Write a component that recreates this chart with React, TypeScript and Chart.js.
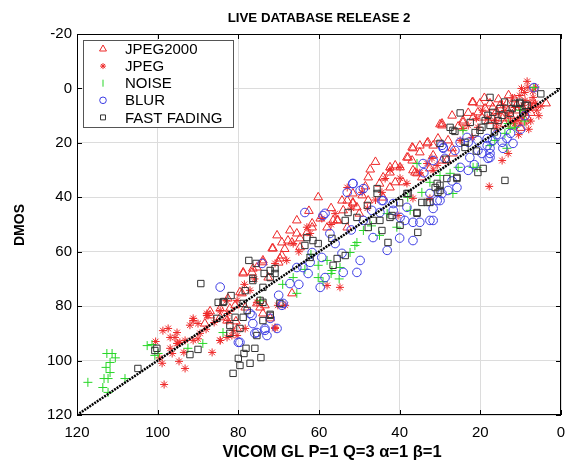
import React, { useEffect, useRef } from "react";
import { Chart, registerables } from "chart.js";

Chart.register(...registerables);

const TITLE = "LIVE DATABASE RELEASE 2";
const X_LABEL = "VICOM GL P=1 Q=3 α=1 β=1";
const Y_LABEL = "DMOS";
const X_TICKS = [0, 20, 40, 60, 80, 100, 120];
const Y_TICKS = [-20, 0, 20, 40, 60, 80, 100, 120];
const SERIES_NAMES = ["JPEG2000", "JPEG", "NOISE", "BLUR", "FAST FADING"];
const IDENTITY_LINE = [[0, 0], [120, 120]];

const jp2kPoints = [
  [3.7, 5.5], [8.9, 11.8], [9.4, 12.5], [8.4, 10.7], [10.9, 8.1], [10.9, 12.9], [13.1, 8.1], [13.4, 5.5], [15.1, 6.2], [16.9, 7],
  [17.6, 5.5], [17.1, 10.7], [18.8, 7.4], [19.6, 10.7], [20.6, 8.8], [20.1, 5.5], [21.8, 5.1], [21.8, 10.7], [24.3, 12.5], [29.5, 12.9],
  [27, 22], [29.5, 26.5], [26.8, 23.9], [7.5, 9], [12, 14], [14.5, 11], [6.5, 6], [11.5, 4],
  [9.5, 7], [12.5, 10], [14, 13], [16, 8.5], [18, 12], [11, 6], [15.5, 4], [23, 9], [25.5, 14], [27, 10], [19, 3.5], [13, 2.5], [10, 14.5],
  [30, 13.2], [30.5, 18.4], [33.2, 20.2], [35, 21], [36.7, 22], [38.2, 25.4], [36.9, 26.5], [39.9, 29], [35.7, 31.2], [47.3, 29.8],
  [47.8, 32.7], [44.1, 32.7], [41.1, 34.5], [39.2, 34.5], [42.4, 36.4], [53, 41.2], [51.6, 42.3], [54, 44.8], [44.1, 40.1], [31.7, 21],
  [29.5, 13.6], [24.3, 11.8], [22, 5.1], [28, 19.1], [33, 19.8], [36.9, 21.7], [35, 23.5], [42.4, 29],
  [45, 35], [48.5, 36], [57, 44], [62.5, 45], [63, 53], [68.5, 59], [70, 64], [46, 27], [50, 46],
  [36.2, 30.9], [60.2, 40], [55.3, 48.5], [59.7, 47.8], [61.7, 49.6], [58, 51.1], [65.5, 53.3], [67.7, 55.9], [66.7, 56.6], [64.7, 58.4],
  [71.4, 58.8], [69.2, 61.4], [73.9, 63.2], [75.4, 65.8], [51.6, 41.9], [50.6, 43.7], [53, 51.1], [56.5, 48.5],
  [72.6, 69.5], [78.8, 67.6], [76.6, 67.6], [79.1, 75.3], [84.5, 80.9], [82.1, 80.9], [82.8, 85.3], [80.6, 85.6], [74.6, 80.5], [72.1, 84.5],
  [78.3, 80.5], [73.9, 82.7], [75.4, 79], [87, 81.9], [78.8, 68], [76.4, 66.2], [79.6, 74.9],
  [73.9, 63.9], [71.6, 58.8], [69.7, 62.5], [82.6, 77.2], [80.8, 79.7], [73.4, 79.7], [66.7, 75.3], [87, 83.4], [88.3, 86.4], [84.5, 84.1], [80.3, 88.2],
  [67.2, 52.2], [64.7, 55.1], [70.4, 54], [69.2, 56.6], [65.5, 48.5], [61.7, 51.1], [55.5, 48.5], [54.3, 41.2], [49.3, 39.3], [47.8, 41.2],
  [51.6, 38.6], [42.4, 30.9], [41.1, 28.3], [37.9, 25.4], [36.7, 30.1], [34.5, 32.7], [32.5, 29.4], [31.7, 24.6], [28.3, 26.5],
];

const jpegPoints = [
  [8.4, -2.6], [8.2, -0.4], [10.2, 2.6], [8.9, 4.4], [7.7, 5.1], [9.4, 6.2], [7.2, 7], [8.2, 8.1], [9.4, 8.8], [10.2, 10.7],
  [10.9, 11.8], [13.1, 9.9], [13.9, 8.1], [15.6, 9.2], [16.4, 11.8], [18.3, 10.7], [20.6, 14.3], [23, 13.6], [25, 19.1], [14.6, 26.5],
  [13.1, 23.9], [6.4, 5.5], [6.9, 3.3], [7, 1], [9, 1.5], [6, 8], [5.5, 10], [11.5, 7], [12, 3.5], [17.8, 36],
  [7.5, 12], [11.5, 13], [12.5, 12], [14.5, 6], [16, 14.5], [19.5, 8], [21, 11], [6.3, -0.5], [9.8, 0], [5, 6.5], [8, 15], [10.5, 17],
  [24.3, 14.7], [22, 18], [15.9, 12.9], [48, 44], [56, 46], [63, 51], [35, 31], [46, 41], [52, 44], [57, 50], [65, 60],
  [53, 36.4], [66.4, 57], [62.2, 53.3], [32, 25.7], [42.4, 30], [39.9, 33], [32.5, 40.4], [30.7, 28.3],
  [49.3, 38.2], [43.6, 33.1], [39.9, 29], [38.2, 34.9], [33.2, 27.6], [31.7, 30.1], [59.3, 47.8], [68, 63.2], [70.9, 64.3], [58, 72.4],
  [54.8, 73.1], [70.2, 79.7], [68.4, 79.7], [70.9, 87.8], [87.8, 82.7], [84.5, 92.6], [81.6, 90.8], [75.4, 78.6], [77.1, 74.2], [36.7, 40.4],
  [44.4, 38.2], [40.4, 46.7],
  [98.7, 89], [97.4, 88.2], [91.2, 85.3], [95.7, 91.5], [94.5, 93.3], [96.4, 97.4], [98.9, 101], [93.2, 102.9], [98.4, 108.8], [94.7, 100.3],
  [87.5, 83.4], [84.5, 81.6], [82.8, 91.5], [80.3, 90.8], [86.5, 97], [70.9, 88.2], [89.5, 90], [95.2, 93.7], [96.9, 95.5], [80.3, 77.9],
  [92, 87], [90, 92], [88, 88.5], [100.5, 93], [99.5, 99], [93.5, 97], [86, 86], [83, 78], [78.5, 72], [76, 70],
  [91.2, 84.5], [90, 86.4], [87.8, 83.4], [95.2, 89.7], [96.9, 91.5], [95, 93.7], [93.2, 92.6], [91.2, 92.6], [84.5, 92.6], [81.3, 88.9],
  [78.3, 88.2], [82.6, 85.3], [82.6, 82.7],
];

const noisePoints = [
  [112.6, 97.4], [111.3, 97.4], [111.8, 100.7], [112.8, 102.5], [111.8, 104.4], [112.3, 106.6], [113.3, 106.6], [113.6, 109.9], [108.1, 106.6], [117.3, 108],
  [102.6, 94.5], [101.4, 94.1], [100.7, 98.1], [99.9, 97.4], [92.5, 95.5], [112.3, 111.7], [88.8, 93.7], [83.8, 89.7], [110.5, 99],
  [58, 63.2], [60.2, 65], [56.8, 66.9], [54.8, 65.8], [60.2, 69.5], [66.4, 69.5], [50.6, 56.6], [52.3, 60.3], [51.1, 57.7], [62, 61],
  [57, 68], [69, 72], [65.5, 75.3], [74.6, 78], [35.7, 27.6], [40.7, 51], [43.1, 46], [49, 52.2], [63.5, 66.5], [59, 71],
  [55, 70], [47, 50.5], [45, 54],
  [13.1, 12.9], [12.6, 14.7], [13.9, 16.5], [17.6, 21], [21.8, 29], [24.3, 15.4], [11.4, 14.3], [26.8, 38.6], [34.5, 38.2], [25.5, 29],
  [32.5, 34.5], [27.5, 31.2], [37.4, 44.8], [13.4, 22], [16.4, 19.1], [20.8, 29], [6.7, -0.3], [10, 8], [9, 12], [30, 32], [38, 40],
];

const blurPoints = [
  [6.7, -0.3],
  [13.4, 18.4], [14.6, 19.8], [11.9, 20.2], [16.9, 19.1], [18.3, 21], [17.6, 23.9], [18.1, 25.7], [20.6, 22.8], [23, 19.8], [22.6, 25.4],
  [29.2, 21.7], [14.4, 22], [17.6, 22], [17.6, 25.4], [18.3, 18.4], [25, 19.8], [23.3, 18], [26.3, 22.8], [29.2, 22], [31.7, 26.5],
  [29.5, 20.9], [34.2, 27.6], [28.8, 25.7], [20.6, 19.1], [19.6, 23.9], [25, 29], [23, 30.1], [25.8, 36.4], [28, 37.5], [30.7, 41.2],
  [32.5, 38.6], [29.5, 38.6], [9, 10], [10, 15],
  [16, 17], [21.5, 28], [12.5, 16.5], [27, 34], [34, 31], [40, 55], [56, 57], [52, 52], [65, 72], [70, 76],
  [49, 36.8], [44.1, 41.2], [41.6, 42.3], [38.7, 48.5], [36.7, 49.2], [35, 49.2], [31.7, 48.5], [49, 48.5], [44.9, 45.6], [39.9, 47.4],
  [51.6, 35], [49.8, 37.5], [46.9, 44.8], [44.4, 41.2], [41.6, 44.8], [38.2, 43.7], [31.7, 44.1], [30, 41.2], [32.5, 48.5], [46.6, 54.8],
  [43.1, 59.5], [49.8, 63.2], [36.7, 55.9], [63.5, 45.6], [58.5, 45.9], [51.6, 34.9], [53, 38.2], [57.3, 53.3], [61.7, 60.3], [54.3, 60.6],
  [64, 65.8], [59.3, 62.1], [54, 67.6], [50.6, 67.6], [62.7, 68], [59, 46.7], [59.7, 73.1], [67.2, 71.7], [65.5, 65.8], [62.2, 63.9], [58.5, 69.5],
  [84.5, 73], [77.1, 82.7], [75.9, 90], [73.4, 88.9], [72.1, 84.5], [80, 93.3], [68.9, 79], [76.4, 86.4], [75.4, 89.7], [73.4, 88.2],
  [74.1, 64.3], [70.4, 88.2], [76.6, 83.4], [72.9, 90.8], [79.6, 93.3], [69.2, 79.7],
];

const fastFadingPoints = [
  [100.7, 96.3], [104.9, 102.9], [92, 97.8], [90, 95.9], [100.2, 95.5], [85.3, 84.5], [82.1, 87.1], [82.1, 90], [79.6, 88.2], [78.8, 84.1],
  [77.8, 81.6], [80, 99.2], [79.6, 101.8], [81.3, 104.7], [78.6, 97.4], [78.1, 95.5], [77.1, 101], [74.4, 98.9], [75.4, 90.8], [73.9, 78.6],
  [72.1, 83], [85, 78.6], [89.3, 71.7], [77.4, 63.2], [83.6, 78.3], [81.8, 76.1], [78.3, 74.3], [75.6, 64.3], [76.4, 70.6], [73.6, 68],
  [72.1, 66.9], [70.9, 68], [74.6, 77.9], [73.9, 85.3], [80.8, 84.1], [76.4, 69.8], [72.1, 69.5], [70.9, 66.2], [73.9, 73.1], [83.8, 78.6],
  [78.8, 79], [72.1, 83.4], [69.7, 79], [75.9, 95.5],
  [63, 54.8], [61.5, 55.9], [63.5, 57.7], [62.2, 62.1], [60.2, 57], [56.8, 55.1], [52.8, 45.6], [53.5, 48.5], [50.6, 47.4], [46.6, 48.5],
  [45.6, 36.8], [44.4, 52.2], [42.9, 56.6], [41.9, 46.7], [38.2, 38.6], [35.7, 45.6], [34.5, 41.9], [32.5, 41.9], [35.5, 52.9], [31.2, 36.4],
  [30, 37.5], [53.5, 61.4], [55.5, 62.5], [56.5, 65], [45.6, 38.6], [37.9, 38.6], [30.7, 34.9], [30.5, 38.2], [28.3, 33.1], [25.8, 32.7],
  [20.6, 30.9], [19.3, 29.4], [33.2, 41.9], [35.7, 45.9], [42.4, 47.4], [44.9, 48.5], [39.9, 50.3], [47.8, 51.1], [30, 35.6], [25.8, 33.1],
  [27.5, 14.3], [26.3, 15.8], [23.8, 19.8], [23.8, 21.7], [30, 20.2], [17.6, 3.3], [15.1, 7.4], [16.9, 8.8], [12.1, 7.4], [10.2, 5.5],
  [12.6, 9.2], [18.1, 9.9], [18.8, 11.8], [19.6, 14.3], [21.3, 16.2], [20.1, 15.4], [26.8, 15.4], [17.6, 13.6], [15.6, 11.8], [14.6, 9.9],
  [8.9, 6.2], [11.4, 5.5], [13.9, 33.8], [10.2, 5.1], [8.4, 6.2],
  [22.5, 12.5], [25, 9], [14, 5], [16.5, 16], [9.5, 9], [5, 2], [21, 23], [28.5, 26], [40, 42], [48, 43],
];

const FONT = "'Liberation Sans', Arial, Helvetica, sans-serif";
const RED = "rgb(238,40,40)";
const GREEN = "rgb(40,215,40)";
const BLUE = "rgb(60,60,228)";
const DARK = "rgb(50,50,50)";

const STYLES = [
  { color: RED, style: "triangle", radius: 5 },
  { color: RED, style: "star", radius: 4 },
  { color: GREEN, style: "cross", radius: 4.5 },
  { color: BLUE, style: "circle", radius: 4.3 },
  { color: DARK, style: "rect", radius: 4.5 },
];
const SERIES = [jp2kPoints, jpegPoints, noisePoints, blurPoints, fastFadingPoints];

const toXY = (pts: number[][]) => pts.map(([x, y]) => ({ x, y }));

function drawMarker(ctx: CanvasRenderingContext2D, style: string, x: number, y: number, r: number, color: string) {
  ctx.save();
  ctx.strokeStyle = color;
  ctx.lineWidth = 1;
  ctx.beginPath();
  if (style === "triangle") {
    ctx.moveTo(x, y - r);
    ctx.lineTo(x + r * 0.866, y + r * 0.5);
    ctx.lineTo(x - r * 0.866, y + r * 0.5);
    ctx.closePath();
  } else if (style === "star") {
    ctx.moveTo(x - r, y); ctx.lineTo(x + r, y);
    ctx.moveTo(x, y - r); ctx.lineTo(x, y + r);
    const d = r * 0.707;
    ctx.moveTo(x - d, y - d); ctx.lineTo(x + d, y + d);
    ctx.moveTo(x - d, y + d); ctx.lineTo(x + d, y - d);
  } else if (style === "cross") {
    ctx.moveTo(x, y - r); ctx.lineTo(x, y + r);
  } else if (style === "circle") {
    ctx.arc(x, y, r, 0, Math.PI * 2);
  } else {
    const s = r * 0.707;
    ctx.rect(x - s, y - s, 2 * s, 2 * s);
  }
  ctx.stroke();
  ctx.restore();
}

const decorPlugin = {
  id: "decor",
  afterDraw(chart: any) {
    const { ctx, chartArea: a, scales } = chart;
    ctx.save();
    ctx.strokeStyle = "#000";
    ctx.lineWidth = 1;
    ctx.strokeRect(a.left + 0.5, a.top + 0.5, a.right - a.left - 1, a.bottom - a.top - 1);
    ctx.beginPath();
    for (const v of X_TICKS) {
      const px = Math.round(scales.x.getPixelForValue(v)) + 0.5;
      ctx.moveTo(px, a.top); ctx.lineTo(px, a.top + 5);
      ctx.moveTo(px, a.bottom); ctx.lineTo(px, a.bottom - 5);
    }
    for (const v of Y_TICKS) {
      const py = Math.round(scales.y.getPixelForValue(v)) + 0.5;
      ctx.moveTo(a.left, py); ctx.lineTo(a.left + 5, py);
      ctx.moveTo(a.right, py); ctx.lineTo(a.right - 5, py);
    }
    ctx.stroke();

    ctx.fillStyle = "#000";
    ctx.textAlign = "center";
    ctx.textBaseline = "middle";
    ctx.font = `bold 13.3px ${FONT}`;
    ctx.fillText(TITLE, (a.left + a.right) / 2, 18);
    ctx.font = `bold 16.5px ${FONT}`;
    ctx.fillText(X_LABEL, 332, 452);
    ctx.save();
    ctx.translate(20, 225);
    ctx.rotate(-Math.PI / 2);
    ctx.font = `bold 14px ${FONT}`;
    ctx.fillText(Y_LABEL, 0, 0);
    ctx.restore();

    // legend
    const lx = 83, ly = 40, lw = 150, lh = 87;
    ctx.fillStyle = "#fff";
    ctx.fillRect(lx, ly, lw, lh);
    ctx.strokeStyle = "#555";
    ctx.strokeRect(lx + 0.5, ly + 0.5, lw, lh);
    ctx.font = `15px ${FONT}`;
    ctx.textAlign = "left";
    ctx.fillStyle = "#000";
    SERIES_NAMES.forEach((name, i) => {
      const yy = 49 + i * 17.1;
      const st = STYLES[i];
      drawMarker(ctx, st.style, 103, yy, st.radius - 1, st.color);
      ctx.fillStyle = "#000";
      ctx.fillText(name, 125, yy + 1);
    });
    ctx.restore();
  },
};

export default function App() {
  const ref = useRef<HTMLCanvasElement | null>(null);
  useEffect(() => {
    if (!ref.current) return;
    const datasets: any[] = [
      {
        label: "identity",
        data: toXY(IDENTITY_LINE),
        showLine: true,
        borderColor: "#000",
        borderWidth: 2.5,
        borderDash: [2, 1],
        pointRadius: 0,
        order: 0,
      },
    ];
    SERIES.forEach((pts, i) => {
      const st = STYLES[i];
      datasets.push({
        label: SERIES_NAMES[i],
        data: toXY(pts),
        pointStyle: st.style,
        pointRadius: st.radius,
        borderColor: st.color,
        backgroundColor: "rgba(0,0,0,0)",
        pointBorderWidth: 1,
        order: 5 - i,
      });
    });
    const tickFont = { family: FONT, size: 15 };
    const chart = new Chart(ref.current, {
      type: "scatter",
      data: { datasets },
      options: {
        responsive: false,
        animation: false,
        devicePixelRatio: 1,
        layout: { padding: { top: 34, right: 7, left: 0, bottom: 0 } },
        plugins: { legend: { display: false }, title: { display: false }, tooltip: { enabled: false } },
        scales: {
          x: {
            type: "linear",
            reverse: true,
            min: 0,
            max: 120,
            afterBuildTicks: (s: any) => { s.ticks = X_TICKS.map((v) => ({ value: v })); },
            afterFit: (s: any) => { s.height = 49; },
            ticks: { font: tickFont, color: "#000", padding: 9, maxRotation: 0, autoSkip: false },
            grid: { color: "#dcdcdc", drawTicks: false },
            border: { display: false },
          },
          y: {
            type: "linear",
            reverse: true,
            min: -20,
            max: 120,
            afterBuildTicks: (s: any) => { s.ticks = Y_TICKS.map((v) => ({ value: v })); },
            afterFit: (s: any) => { s.width = 77; },
            ticks: { font: tickFont, color: "#000", padding: 5, autoSkip: false },
            grid: { color: "#dcdcdc", drawTicks: false },
            border: { display: false },
          },
        },
      } as any,
      plugins: [decorPlugin],
    });
    return () => chart.destroy();
  }, []);
  return (
    <div style={{ position: "fixed", left: 0, top: 0, width: 568, height: 464, background: "#fff" }}>
      <canvas ref={ref} width={568} height={464} />
    </div>
  );
}
